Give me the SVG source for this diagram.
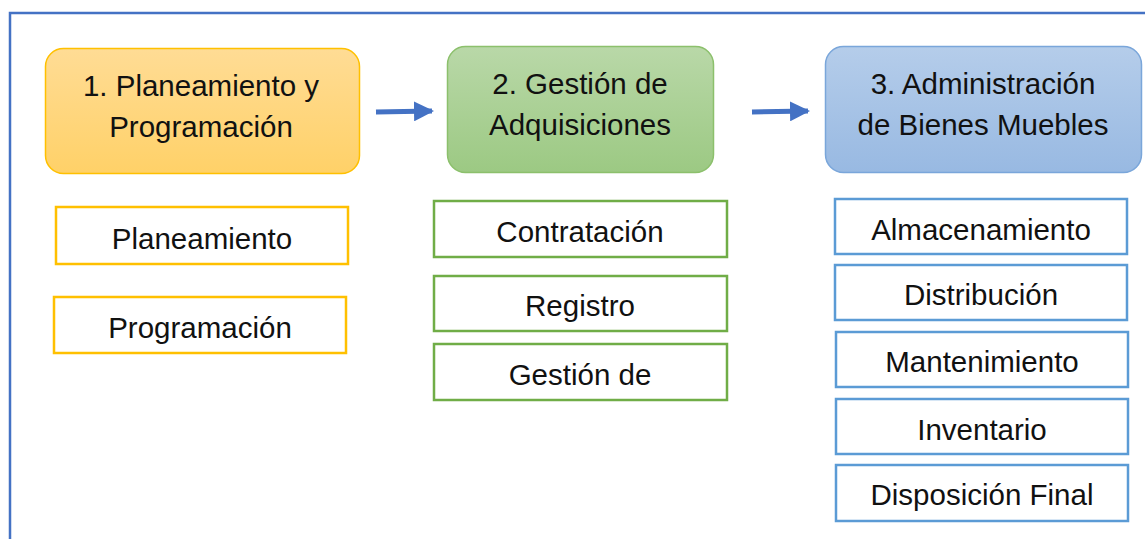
<svg xmlns="http://www.w3.org/2000/svg" width="1145" height="539" viewBox="0 0 1145 539">
<defs>
<linearGradient id="gy" x1="0" y1="0" x2="0" y2="1"><stop offset="0" stop-color="#ffdc95"/><stop offset="1" stop-color="#ffd168"/></linearGradient>
<linearGradient id="gg" x1="0" y1="0" x2="0" y2="1"><stop offset="0" stop-color="#b9d8a8"/><stop offset="1" stop-color="#9cc983"/></linearGradient>
<linearGradient id="gb" x1="0" y1="0" x2="0" y2="1"><stop offset="0" stop-color="#b5cdea"/><stop offset="1" stop-color="#98b9e2"/></linearGradient>
<marker id="ah" viewBox="0 0 10 10" refX="9" refY="5" markerWidth="4" markerHeight="4" orient="auto" markerUnits="strokeWidth"><path d="M0,0 L10,5 L0,10 z" fill="#4472c4"/></marker>
</defs>
<style>
text{font-family:"Liberation Sans",Arial,sans-serif;font-size:29.5px;fill:#111;text-anchor:middle}
.sy{fill:#fff;stroke:#ffc000;stroke-width:2.5}
.sg{fill:#fff;stroke:#70ad47;stroke-width:2.5}
.sb{fill:#fff;stroke:#5b9bd5;stroke-width:2.5}
.conn{stroke:#4472c4;stroke-width:5;fill:none;marker-end:url(#ah)}
</style>
<rect width="1145" height="539" fill="#fff"/>
<path d="M10,539 V13 H1145" fill="none" stroke="#4472c4" stroke-width="2.5"/>
<g id="connectors">
<line class="conn" x1="376" y1="112" x2="432" y2="111"/>
<line class="conn" x1="752" y1="112" x2="808" y2="111"/>
</g>
<g id="n1"><rect x="45.5" y="48.5" width="314" height="125" rx="18" fill="url(#gy)" stroke="#ffc000" stroke-width="1.5"/><text x="201" y="96">1. Planeamiento y</text><text x="201" y="137">Programación</text></g>
<g id="n2"><rect x="447.5" y="46.5" width="266" height="126" rx="18" fill="url(#gg)" stroke="#8cc06c" stroke-width="1.5"/><text x="580" y="94">2. Gestión de</text><text x="580" y="135">Adquisiciones</text></g>
<g id="n3"><rect x="825.5" y="46.5" width="316" height="126" rx="18" fill="url(#gb)" stroke="#7aa6da" stroke-width="1.5"/><text x="983" y="94">3. Administración</text><text x="983" y="135">de Bienes Muebles</text></g>
<g id="s1a"><rect class="sy" x="56" y="207" width="292" height="57"/><text x="202" y="249">Planeamiento</text></g>
<g id="s1b"><rect class="sy" x="54" y="297" width="292" height="56"/><text x="200" y="338">Programación</text></g>
<g id="s2a"><rect class="sg" x="434" y="201" width="293" height="56"/><text x="580" y="242">Contratación</text></g>
<g id="s2b"><rect class="sg" x="434" y="276" width="293" height="55"/><text x="580" y="316">Registro</text></g>
<g id="s2c"><rect class="sg" x="434" y="344" width="293" height="56"/><text x="580" y="385">Gestión de</text></g>
<g id="s3a"><rect class="sb" x="835" y="199" width="292" height="55"/><text x="981" y="240">Almacenamiento</text></g>
<g id="s3b"><rect class="sb" x="835" y="265" width="292" height="55"/><text x="981" y="305">Distribución</text></g>
<g id="s3c"><rect class="sb" x="836" y="332" width="292" height="55"/><text x="982" y="372">Mantenimiento</text></g>
<g id="s3d"><rect class="sb" x="836" y="399" width="292" height="55"/><text x="982" y="440">Inventario</text></g>
<g id="s3e"><rect class="sb" x="836" y="465" width="292" height="56"/><text x="982" y="505">Disposición Final</text></g>
</svg>
